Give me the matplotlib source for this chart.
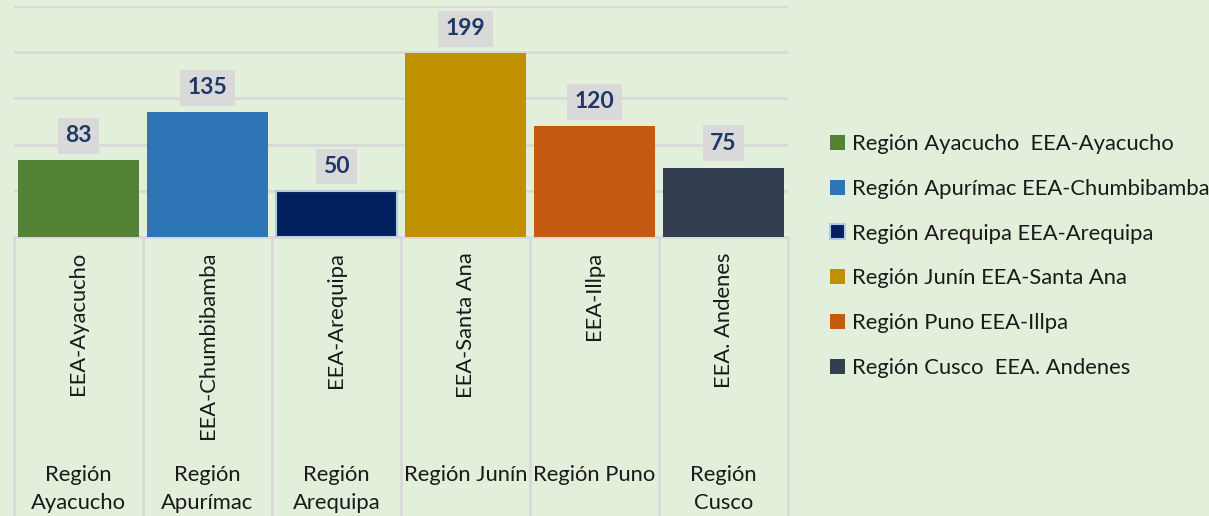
import matplotlib.pyplot as plt
from matplotlib.transforms import blended_transform_factory

stations = ["EEA-Ayacucho", "EEA-Chumbibamba", "EEA-Arequipa",
            "EEA-Santa Ana", "EEA-Illpa", "EEA. Andenes"]
regions = ["Región\nAyacucho", "Región\nApurímac", "Región\nArequipa",
           "Región Junín", "Región Puno", "Región\nCusco"]
legend_labels = ["Región Ayacucho  EEA-Ayacucho",
                 "Región Apurímac EEA-Chumbibamba",
                 "Región Arequipa EEA-Arequipa",
                 "Región Junín EEA-Santa Ana",
                 "Región Puno EEA-Illpa",
                 "Región Cusco  EEA. Andenes"]
values = [83, 135, 50, 199, 120, 75]
colors = ["#548235", "#2E75B6", "#002060", "#BF9000", "#C55A11", "#333F50"]

BG = "#E2EFDA"
GRID = "#D9D9D9"
W, H = 1209, 516
FS = 15.8

plt.rcParams["font.family"] = ["Lato", "DejaVu Sans"]

fig = plt.figure(figsize=(W / 100, H / 100), dpi=100, facecolor=BG)
ax = fig.add_axes([14 / W, 1 - 237 / H, (788 - 14) / W, (237 - 6) / H])
ax.set_facecolor(BG)

x = list(range(len(values)))
bars = ax.bar(x, values, width=0.945, color=colors, zorder=3)
bars.patches[2].set_edgecolor("#B4C7E7")
bars.patches[2].set_linewidth(1.5)

ax.set_xlim(-0.5, len(values) - 0.5)
ax.set_ylim(0, 250)
ax.set_yticks(range(0, 251, 50))
ax.yaxis.grid(True, color=GRID, linewidth=2)
ax.set_axisbelow(True)
ax.tick_params(left=False, bottom=False, labelleft=False, labelbottom=False)
for side in ["left", "right", "top"]:
    ax.spines[side].set_visible(False)
ax.spines["bottom"].set_color(GRID)
ax.spines["bottom"].set_linewidth(2)

# value labels in grey boxes
for xi, v in zip(x, values):
    ax.annotate(str(v), xy=(xi, v), xytext=(0, 10), textcoords="offset points",
                ha="center", va="bottom", fontsize=16.5, fontweight="bold",
                color="#1F3864",
                bbox=dict(boxstyle="square,pad=0.32", fc="#D9D9D9", ec="none"),
                zorder=4)

# multi-level category table under the axis
blend = blended_transform_factory(ax.transData, fig.transFigure)
y_base = 1 - 237 / H
for b in range(len(values) + 1):
    ax.plot([b - 0.5, b - 0.5], [0, y_base], transform=blend, color=GRID,
            linewidth=2, clip_on=False)

for xi, st, rg in zip(x, stations, regions):
    ax.text(xi, 1 - 252 / H, st, transform=blend, rotation=90,
            ha="center", va="top", fontsize=FS, color="#1a1a1a")
    ax.text(xi, 1 - 465 / H, rg, transform=blend, ha="center", va="top",
            multialignment="center", linespacing=1.5, fontsize=FS,
            color="#1a1a1a")

fig.legend(bars.patches, legend_labels, loc="upper left",
           bbox_to_anchor=(830 / W, 1 - 134 / H), frameon=False,
           fontsize=FS, handlelength=0.68, handleheight=0.68,
           handletextpad=0.3, labelspacing=1.13, borderpad=0,
           borderaxespad=0, labelcolor="#1a1a1a")

fig.savefig("out.png", dpi=100, facecolor=BG)
